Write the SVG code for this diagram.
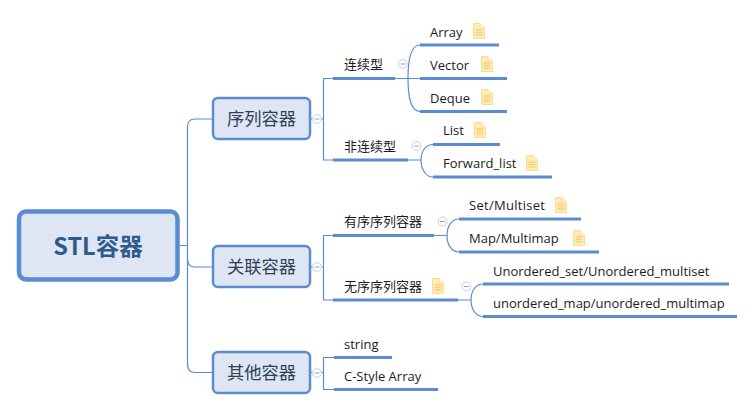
<svg xmlns="http://www.w3.org/2000/svg" width="755" height="410" viewBox="0 0 755 410">
<style>
text{font-family:"Noto Sans CJK SC","Liberation Sans",sans-serif;fill:#1c1c1c;font-size:13px}
.lat{font-family:"Open Sans","Noto Sans CJK SC",sans-serif}
.t1{font-size:17.3px;fill:#2f3f56;text-anchor:middle}
.root{font-size:23.5px;font-weight:700;fill:#2f5a8e;text-anchor:middle}
.box{fill:#dde6f2;stroke:#5b8bd0;stroke-width:2.5}
.c{fill:none;stroke:#5b8bd0;stroke-width:1.2}
.u{fill:none;stroke:#5b8bd0;stroke-width:3.2}
.m{fill:#fff;stroke:#cfd9f2;stroke-width:1.2}
.mm{stroke:#9aa3b5;stroke-width:1;fill:none}
</style>
<defs>
<g id="note"><path d="M0.5 0.5H7L11.500 5V15.500H0.5Z" fill="#fdeeb8" stroke="#fbdc96"/><path d="M7 0.5V5H11.500" fill="#fff5d2" stroke="#fbdc96"/><path d="M2.500 7H9.500M2.500 9.500H9.500M2.500 12H9.500" stroke="#f5cf7e" stroke-width="1.3"/></g>
<g id="col"><circle r="4.3" class="m"/><path d="M-2.400 0H2.400" class="mm"/></g>
</defs>
<g id="connectors">
<path class="c" d="M179 245.500H187.500M212 119H195Q187.500 119 187.500 127V364Q187.500 372.500 195 372.500H212M187.500 245.500V259Q187.500 267 195 267H212"/>
<path class="c" d="M311 119H323M323.500 78.500V160M323 78.500H333M323 160H333M395 78.500H420M408 78.500C408 60 411 45 420 45M408 78.500C408 97 411 111.500 420 111.500M408 160H421M421 160C421 152 425 144.500 433 144.500M421 160C421 168 425 177 433 177"/>
<path class="c" d="M311 267H323M323.500 235.500V300M323 235.500H333M323 300H333M434 235.500H447M447 235.500C447 227 451 219 459 219M447 235.500C447 244 451 252 459 252M458 300H471M471 300C471 292 475 284 483 284M471 300C471 308 475 316.500 483 316.500"/>
<path class="c" d="M311 372.500H323M323.500 357V389.500M323 357.500H334M323 389.500H334"/>
<g class="u">
<path d="M333 78.500H395M420 45H499M420 78.500H507M420 111.500H507M333 160H408M433 144.500H500M433 177H552"/>
<path d="M333 235.500H434M459 219H581M459 252H599M333 300H458M483 284H729M483 316.500H737"/>
<path d="M334 357.500H392M334 389.500H438"/>
</g>
</g>
<g id="root"><rect x="19" y="211.500" width="158.500" height="68" rx="7" fill="#dde6f2" stroke="#5b8bd0" stroke-width="4.500"/><text class="root" x="98" y="254.500">STL容器</text></g>
<g id="n-seq"><rect class="box" x="213" y="98" width="97" height="41" rx="5"/><text class="t1" x="261.500" y="125">序列容器</text><use href="#col" x="317" y="119"/></g>
<g id="n-assoc"><rect class="box" x="213" y="246" width="97" height="41" rx="5"/><text class="t1" x="261.500" y="273">关联容器</text><use href="#col" x="317" y="267"/></g>
<g id="n-other"><rect class="box" x="213" y="352" width="97" height="41" rx="5"/><text class="t1" x="261.500" y="379">其他容器</text><use href="#col" x="317" y="373"/></g>
<g id="n-cont"><text x="344" y="69">连续型</text><use href="#col" x="403" y="64"/></g>
<g id="n-noncont"><text x="344" y="151">非连续型</text><use href="#col" x="416.500" y="146"/></g>
<g id="n-array"><text class="lat" x="430" y="36.500">Array</text><use href="#note" x="473" y="23"/></g>
<g id="n-vector"><text class="lat" x="430" y="69.500">Vector</text><use href="#note" x="481" y="56"/></g>
<g id="n-deque"><text class="lat" x="430" y="102.500">Deque</text><use href="#note" x="481" y="89"/></g>
<g id="n-list"><text class="lat" x="443" y="135">List</text><use href="#note" x="474" y="122"/></g>
<g id="n-flist"><text class="lat" x="443" y="168">Forward_list</text><use href="#note" x="526" y="155"/></g>
<g id="n-ordered"><text x="344" y="226">有序序列容器</text><use href="#col" x="442.500" y="221.500"/></g>
<g id="n-unordered"><text x="344" y="291">无序序列容器</text><use href="#note" x="432" y="278"/><use href="#col" x="466.500" y="286.500"/></g>
<g id="n-set"><text class="lat" x="469" y="210" textLength="76">Set/Multiset</text><use href="#note" x="555" y="197"/></g>
<g id="n-map"><text class="lat" x="469" y="243">Map/Multimap</text><use href="#note" x="573" y="230"/></g>
<g id="n-uset"><text class="lat" x="493" y="276">Unordered_set/Unordered_multiset</text></g>
<g id="n-umap"><text class="lat" x="493" y="308">unordered_map/unordered_multimap</text></g>
<g id="n-string"><text class="lat" x="344" y="349">string</text></g>
<g id="n-cstyle"><text class="lat" x="344" y="381">C-Style Array</text></g>
</svg>
